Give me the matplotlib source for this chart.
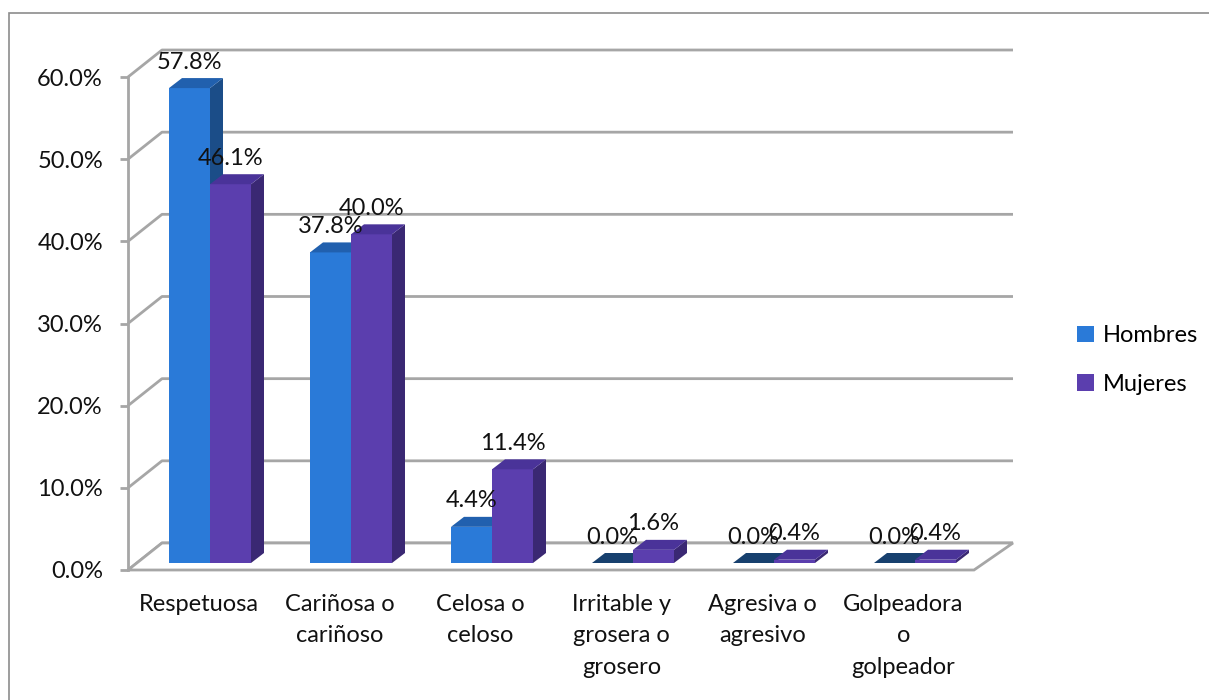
import matplotlib.pyplot as plt
from matplotlib.patches import Polygon, Rectangle, Patch

plt.rcParams['font.family'] = ['Lato', 'DejaVu Sans']

categories = ["Respetuosa", "Cariñosa o\ncariñoso", "Celosa o\nceloso",
              "Irritable y\ngrosera o\ngrosero", "Agresiva o\nagresivo",
              "Golpeadora\no\ngolpeador"]
hombres = [57.8, 37.8, 4.4, 0.0, 0.0, 0.0]
mujeres = [46.1, 40.0, 11.4, 1.6, 0.4, 0.4]
series = ["Hombres", "Mujeres"]
yticks = [0, 10, 20, 30, 40, 50, 60]

# colours: front, top, side
blue = ("#2A7AD8", "#2160AE", "#1B4D88")
purple = ("#5B3EAE", "#4A3399", "#3A2873")
grid_c = "#A6A6A6"
txt_c = "#111111"
fs = 17

W, H = 1209, 700
fig = plt.figure(figsize=(W / 100, H / 100), dpi=100)
# front plane: x 0..6 -> px 128..974, y 0..60 -> px 570..77
ax = fig.add_axes([128 / W, 1 - 570 / H, 846 / W, 493 / H])
ax.set_xlim(0, 6)
ax.set_ylim(0, 60)
px_x = 846 / 6
px_y = 493 / 60

# depth offsets (pixels converted to data units)
wdx, wdy = 34 / px_x, 27 / px_y      # back wall
bdx, bdy = 11.5 / px_x, 7 / px_y     # bar plane
cdx, cdy = 13 / px_x, 10 / px_y      # bar depth
bw = 41 / px_x

# back wall gridlines + left wall
for t in yticks:
    ax.plot([0, wdx, 6 + wdx + 5 / px_x], [t, t + wdy, t + wdy], color=grid_c,
            lw=2, clip_on=False, zorder=1, solid_capstyle='butt')

# floor
floor = Polygon([(0, 0), (6, 0), (6 + wdx + 5 / px_x, wdy), (wdx, wdy)],
                closed=True, facecolor="white", edgecolor=grid_c, lw=2,
                clip_on=False, zorder=2)
ax.add_patch(floor)


def draw_bar(x0, v, cols):
    y0 = bdy
    y1 = bdy + v
    if v > 0:
        ax.add_patch(Rectangle((x0, y0), bw, v, facecolor=cols[0], lw=0,
                               clip_on=False, zorder=3))
        ax.add_patch(Polygon([(x0 + bw, y0), (x0 + bw + cdx, y0 + cdy),
                              (x0 + bw + cdx, y1 + cdy), (x0 + bw, y1)],
                             closed=True, facecolor=cols[2], lw=0,
                             clip_on=False, zorder=3))
    top_c = cols[1] if v > 0 else "#17406E"
    ax.add_patch(Polygon([(x0, y1), (x0 + bw, y1), (x0 + bw + cdx, y1 + cdy),
                          (x0 + cdx, y1 + cdy)], closed=True, facecolor=top_c,
                         lw=0, clip_on=False, zorder=3))


for i in range(len(categories)):
    c = i + 0.5 + bdx
    for x0, v, cols in [(c - bw, hombres[i], blue), (c, mujeres[i], purple)]:
        draw_bar(x0, v, cols)
        ax.annotate(f"{v:.1f}%", (x0 + bw / 2, bdy + v), xytext=(0, 14),
                    textcoords="offset points", ha="center", va="baseline",
                    fontsize=fs, color=txt_c, zorder=5, annotation_clip=False)

for s in ["top", "right", "bottom"]:
    ax.spines[s].set_visible(False)
ax.spines["left"].set_color(grid_c)
ax.spines["left"].set_linewidth(2)
ax.set_yticks(yticks)
ax.set_yticklabels([f"{t:.1f}%" for t in yticks], fontsize=fs, color=txt_c)
ax.tick_params(axis="y", length=6, width=2, color=grid_c, pad=12)
ax.set_xticks([i + 0.5 for i in range(len(categories))])
ax.set_xticklabels(categories, fontsize=fs, color=txt_c, linespacing=1.62,
                   va="top")
ax.tick_params(axis="x", length=0, pad=17)
ax.patch.set_visible(False)

# outer chart border
fig.patches.append(Rectangle((9 / W, -0.05), 1.1, 1 - 13 / H + 0.05,
                             transform=fig.transFigure, fill=False,
                             edgecolor="#8C8C8C", lw=1.2))

handles = [Patch(facecolor=blue[0]), Patch(facecolor=purple[0])]
fig.legend(handles, series, loc="center left",
           bbox_to_anchor=(1056 / W, 1 - 360 / H), frameon=False,
           fontsize=fs, handlelength=0.7, handleheight=0.7,
           handletextpad=0.4, labelspacing=1.15)

fig.savefig("out.png", dpi=100)
